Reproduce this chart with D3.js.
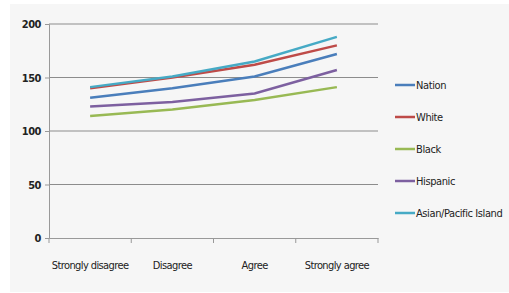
<!DOCTYPE html>
<html>
<head>
<meta charset="utf-8">
<script src="https://cdn.jsdelivr.net/npm/d3@7/dist/d3.min.js"></script>
<style>
  body { margin: 0; padding: 0; background: #fff; }
  text { font-family: "DejaVu Sans Condensed", "Liberation Sans Narrow", sans-serif; fill: #222; }
</style>
</head>
<body>
<div id="chart"></div>
<script>
var categories = ["Strongly disagree", "Disagree", "Agree", "Strongly agree"];
var seriesNames = ["Nation", "White", "Black", "Hispanic", "Asian/Pacific Island"];
var nation   = [131, 140, 151, 172];
var white    = [140, 150, 162, 180];
var black    = [114, 120, 129, 141];
var hispanic = [123, 127, 135, 157];
var asian    = [141, 151, 165, 188];
var yTicks = [0, 50, 100, 150, 200];
var colors = ["#4a7ebb", "#be4b48", "#98b954", "#7d60a0", "#46aac5"];

var series = [nation, white, black, hispanic, asian];
var font = "'DejaVu Sans Condensed', sans-serif";

var width = 509, height = 293;
var svg = d3.select("#chart").append("svg")
    .attr("width", width)
    .attr("height", height);

svg.append("rect")
    .attr("x", 10).attr("y", 4)
    .attr("width", width - 10).attr("height", 288)
    .attr("fill", "#f6f6f6");

var x = d3.scaleBand().domain(categories).range([49, 378]);
var y = d3.scaleLinear().domain([0, 200]).range([238, 24]);

// gridlines
svg.selectAll("line.grid")
    .data(yTicks.filter(function(d) { return d > 0; }))
    .enter().append("line")
    .attr("x1", 49).attr("x2", 378)
    .attr("y1", function(d) { return y(d); })
    .attr("y2", function(d) { return y(d); })
    .attr("stroke", "#8c8c8c")
    .attr("stroke-width", 1);

// y axis
var yAxis = svg.append("g")
    .attr("transform", "translate(49,0)")
    .call(d3.axisLeft(y).tickValues(yTicks).tickSize(4).tickPadding(4));
yAxis.select(".domain").attr("stroke", "#999");
yAxis.selectAll(".tick line").attr("stroke", "#999");
yAxis.selectAll("text").attr("font-size", 11).attr("fill", "#222")
    .style("font-family", font).style("font-weight", "bold").style("letter-spacing", "-0.5px");

// x axis
var xAxis = svg.append("g")
    .attr("transform", "translate(0,238)")
    .call(d3.axisBottom(x).tickSize(0).tickPadding(23));
xAxis.select(".domain").attr("stroke", "#999");
xAxis.selectAll("text").attr("font-size", 11).attr("fill", "#222")
    .style("font-family", font).style("letter-spacing", "-0.6px");

// x tick marks at band boundaries
svg.selectAll("line.xtick")
    .data(categories.concat(["end"]))
    .enter().append("line")
    .attr("x1", function(d, i) { return 49 + i * x.step(); })
    .attr("x2", function(d, i) { return 49 + i * x.step(); })
    .attr("y1", 238).attr("y2", 243)
    .attr("stroke", "#999");

var line = d3.line()
    .x(function(d, i) { return x(categories[i]) + x.bandwidth() / 2; })
    .y(function(d) { return y(d); });

svg.selectAll("path.series")
    .data(series)
    .enter().append("path")
    .attr("d", line)
    .attr("fill", "none")
    .attr("stroke", function(d, i) { return colors[i]; })
    .attr("stroke-width", 2.5);

// legend
var legend = svg.selectAll("g.legend")
    .data(seriesNames)
    .enter().append("g")
    .attr("transform", function(d, i) { return "translate(395," + (85 + i * 32) + ")"; });
legend.append("line")
    .attr("x1", 0).attr("x2", 20)
    .attr("stroke", function(d, i) { return colors[i]; })
    .attr("stroke-width", 2.5);
legend.append("text")
    .attr("x", 21).attr("dy", "0.35em")
    .attr("font-size", 11)
    .style("font-family", font).style("letter-spacing", "-0.4px")
    .text(function(d) { return d; });
</script>
</body>
</html>
